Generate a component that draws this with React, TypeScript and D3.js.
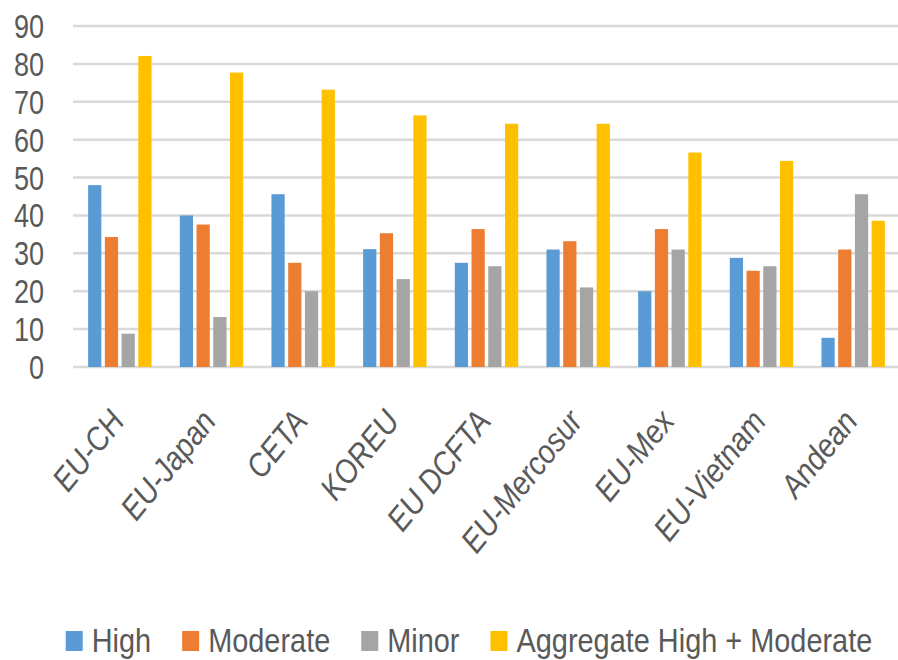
import React, { useEffect, useRef } from 'react'
import * as d3 from 'd3'

const categories = ["EU-CH", "EU-Japan", "CETA", "KOREU", "EU DCFTA", "EU-Mercosur", "EU-Mex", "EU-Vietnam", "Andean"]
const seriesNames = ["High", "Moderate", "Minor", "Aggregate High + Moderate"]
const high = [48, 40, 45.6, 31.1, 27.5, 31, 20, 28.8, 7.7]
const moderate = [34.3, 37.6, 27.5, 35.3, 36.4, 33.2, 36.4, 25.4, 31]
const minor = [8.8, 13.2, 20, 23.2, 26.6, 21, 31, 26.6, 45.6]
const aggregate = [82.1, 77.7, 73.2, 66.4, 64.2, 64.2, 56.6, 54.4, 38.6]
const yTicks = [0, 10, 20, 30, 40, 50, 60, 70, 80, 90]

const colors = ["#5b9bd5", "#ed7d31", "#a5a5a5", "#ffc000"]
const FONT = "'Liberation Sans', Arial, sans-serif"
const SX = 0.82 // narrow the glyphs to get a Calibri-like width

export default function App() {
    const svgRef = useRef<SVGSVGElement>(null)
    const width = 898
    const height = 660

    useEffect(() => {
        if (!svgRef.current) return
        const svg = d3.select(svgRef.current)
        svg.selectAll("*").remove()

        const values = [high, moderate, minor, aggregate]

        const x = d3.scaleBand<string>()
            .domain(categories)
            .range([74, 899])
            .paddingInner(0.27)
            .paddingOuter(0.135)

        const xs = d3.scaleBand<number>()
            .domain(d3.range(seriesNames.length))
            .range([0, x.bandwidth()])

        const y = d3.scaleLinear().domain([0, 90]).range([367, 26])

        // gridlines
        svg.append("g")
            .selectAll("line")
            .data(yTicks)
            .enter().append("line")
            .attr("x1", 73)
            .attr("x2", width)
            .attr("y1", d => y(d))
            .attr("y2", d => y(d))
            .attr("stroke", "#d9d9d9")
            .attr("stroke-width", 2.5)

        // y labels
        svg.append("g")
            .selectAll("text")
            .data(yTicks)
            .enter().append("text")
            .attr("transform", d => `translate(44,${y(d) + 12}) scale(${SX},1)`)
            .attr("text-anchor", "end")
            .attr("font-family", FONT)
            .attr("font-size", 33)
            .attr("fill", "#595959")
            .text(d => d)

        // bars
        const groups = svg.append("g")
            .selectAll("g")
            .data(categories)
            .enter().append("g")
            .attr("transform", d => `translate(${x(d)},0)`)

        groups.selectAll("rect")
            .data((_, i) => values.map((v, s) => ({ s, v: v[i] })))
            .enter().append("rect")
            .attr("x", d => (xs(d.s) as number) + 1.75)
            .attr("width", xs.bandwidth() - 3.5)
            .attr("y", d => y(d.v))
            .attr("height", d => y(0) - y(d.v))
            .attr("fill", d => colors[d.s])

        // category labels
        svg.append("g")
            .selectAll("text")
            .data(categories)
            .enter().append("text")
            .attr("transform", d => `translate(${(x(d) as number) + x.bandwidth() / 2 + 6},422) rotate(-51) scale(0.88,1)`)
            .attr("text-anchor", "end")
            .attr("font-family", FONT)
            .attr("font-style", "italic")
            .attr("font-size", 33)
            .attr("fill", "#595959")
            .text(d => d)

        // legend
        const LSX = 0.85
        const legend = svg.append("g")
        let cx = 0
        seriesNames.forEach((name, i) => {
            const item = legend.append("g").attr("transform", `translate(${cx},0)`)
            item.append("rect")
                .attr("x", 0)
                .attr("y", 631)
                .attr("width", 17)
                .attr("height", 20)
                .attr("fill", colors[i])
            const t = item.append("text")
                .attr("transform", `translate(26,652) scale(${LSX},1)`)
                .attr("font-family", FONT)
                .attr("font-size", 34)
                .attr("fill", "#595959")
                .text(name)
            const w = (t.node() as SVGTextElement).getComputedTextLength() * LSX
            cx += 26 + w + 31
        })
        const total = cx - 31
        legend.attr("transform", `translate(${469 - total / 2},0)`)
    }, [])

    return (
        <div style={{ position: "absolute", left: 0, top: 0 }}>
            <svg ref={svgRef} width={width} height={height} viewBox={`0 0 ${width} ${height}`} style={{ display: "block", background: "#fff" }} />
        </div>
    )
}
